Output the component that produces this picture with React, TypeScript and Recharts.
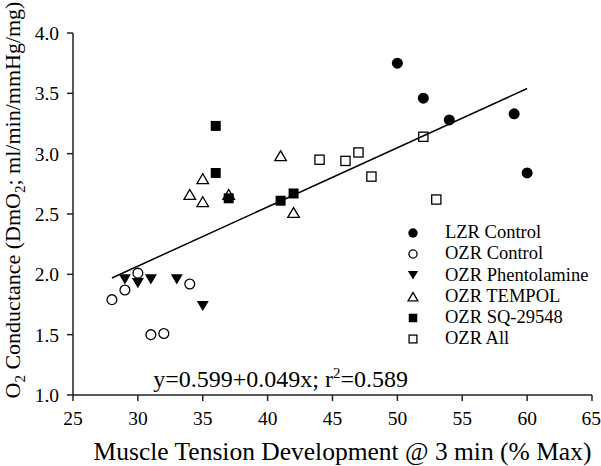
import React from "react";
import {
  ScatterChart,
  Scatter,
  XAxis,
  YAxis,
  ReferenceDot,
} from "recharts";

const lzrX = [50, 52, 54, 59, 60];
const lzrY = [3.75, 3.46, 3.28, 3.33, 2.84];

const ozrCtrlX = [28, 29, 30, 31, 32, 34];
const ozrCtrlY = [1.79, 1.87, 2.01, 1.5, 1.51, 1.92];

const phentX = [29, 30, 31, 33, 35];
const phentY = [1.96, 1.93, 1.96, 1.96, 1.74];

const tempolX = [34, 35, 35, 37, 41, 42];
const tempolY = [2.66, 2.79, 2.6, 2.66, 2.98, 2.51];

const sqX = [36, 36, 37, 41, 42];
const sqY = [3.23, 2.84, 2.63, 2.61, 2.67];

const allX = [44, 46, 47, 48, 52, 53];
const allY = [2.95, 2.94, 3.01, 2.81, 3.14, 2.62];

const fitX = [28, 60];
const fitY = [1.97, 3.54];

const xTicks = [25, 30, 35, 40, 45, 50, 55, 60, 65];
const yTicks = [1.0, 1.5, 2.0, 2.5, 3.0, 3.5, 4.0];

const toPts = (xs: number[], ys: number[]) => xs.map((x, i) => ({ x, y: ys[i] }));

const FONT = "'Liberation Serif', 'Times New Roman', serif";
const INK = "#000";

type Kind = "fillCircle" | "openCircle" | "fillTriDown" | "openTriUp" | "fillSquare" | "openSquare";

function Marker({ kind, cx, cy, s = 1 }: { kind: Kind; cx: number; cy: number; s?: number }) {
  const r = 5.5 * s;
  switch (kind) {
    case "fillCircle":
      return <circle cx={cx} cy={cy} r={r} fill={INK} />;
    case "openCircle":
      return <circle cx={cx} cy={cy} r={r - 0.6} fill="#fff" stroke={INK} strokeWidth={1.3} />;
    case "fillTriDown": {
      const h = 6 * s;
      return (
        <polygon
          points={`${cx - h},${cy - h * 0.8} ${cx + h},${cy - h * 0.8} ${cx},${cy + h * 0.9}`}
          fill={INK}
        />
      );
    }
    case "openTriUp": {
      const h = 5.8 * s;
      return (
        <polygon
          points={`${cx - h},${cy + h * 0.8} ${cx + h},${cy + h * 0.8} ${cx},${cy - h * 0.9}`}
          fill="#fff"
          stroke={INK}
          strokeWidth={1.3}
        />
      );
    }
    case "fillSquare": {
      const h = 5 * s;
      return <rect x={cx - h} y={cy - h} width={2 * h} height={2 * h} fill={INK} />;
    }
    case "openSquare": {
      const h = 4.6 * s;
      return <rect x={cx - h} y={cy - h} width={2 * h} height={2 * h} fill="#fff" stroke={INK} strokeWidth={1.3} />;
    }
  }
  return null;
}

const series: { name: string; kind: Kind; xs: number[]; ys: number[] }[] = [
  { name: "LZR Control", kind: "fillCircle", xs: lzrX, ys: lzrY },
  { name: "OZR Control", kind: "openCircle", xs: ozrCtrlX, ys: ozrCtrlY },
  { name: "OZR Phentolamine", kind: "fillTriDown", xs: phentX, ys: phentY },
  { name: "OZR TEMPOL", kind: "openTriUp", xs: tempolX, ys: tempolY },
  { name: "OZR SQ-29548", kind: "fillSquare", xs: sqX, ys: sqY },
  { name: "OZR All", kind: "openSquare", xs: allX, ys: allY },
];

function LegendBox() {
  return (
    <div
      style={{
        position: "absolute",
        left: 403,
        top: 222,
        fontFamily: FONT,
        fontSize: 18.5,
        color: INK,
        lineHeight: "21.3px",
        whiteSpace: "nowrap",
      }}
    >
      {series.map((s) => (
        <div key={s.name} style={{ display: "flex", alignItems: "center", height: 21.3 }}>
          <svg width={20} height={20} style={{ marginRight: 22 }}>
            <Marker kind={s.kind} cx={10} cy={10} s={0.85} />
          </svg>
          <span>{s.name}</span>
        </div>
      ))}
    </div>
  );
}

function YLabel() {
  return (
    <text
      transform="translate(20, 200) rotate(-90)"
      textAnchor="middle"
      fontFamily={FONT}
      fontSize={22}
      fill={INK}
    >
      O<tspan fontSize={15} dy={5}>2</tspan>
      <tspan dy={-5}> Conductance (DmO</tspan>
      <tspan fontSize={15} dy={5}>2</tspan>
      <tspan dy={-5}>; ml/min/mmHg/mg)</tspan>
    </text>
  );
}

function XLabel(props: any) {
  const { viewBox } = props;
  return (
    <text
      x={viewBox.x + viewBox.width / 2 + 10}
      y={viewBox.y + 65}
      textAnchor="middle"
      fontFamily={FONT}
      fontSize={25.5}
      fill={INK}
    >
      Muscle Tension Development @ 3 min (% Max)
    </text>
  );
}

function FitLabel(props: any) {
  const { viewBox } = props;
  return (
    <text x={viewBox.x} y={viewBox.y + 8} textAnchor="middle" fontFamily={FONT} fontSize={24} fill={INK}>
      y=0.599+0.049x; r<tspan fontSize={15} dy={-9}>2</tspan>
      <tspan dy={9}>=0.589</tspan>
    </text>
  );
}

export default function App() {
  return (
    <div style={{ position: "absolute", left: 0, top: 0, width: 601, height: 466, background: "#fff" }}>
      <ScatterChart width={601} height={466} margin={{ top: 33, right: 9, bottom: 11, left: 0 }}>
        <XAxis
          type="number"
          dataKey="x"
          domain={[25, 65]}
          ticks={xTicks}
          tickSize={6}
          tickMargin={10}
          stroke="#222"
          strokeWidth={1.5}
          height={60}
          tick={{ fontFamily: FONT, fontSize: 19.5, fill: INK }}
          label={<XLabel />}
        />
        <YAxis
          type="number"
          dataKey="y"
          domain={[1, 4]}
          ticks={yTicks}
          tickFormatter={(v: number) => v.toFixed(1)}
          tickSize={6}
          tickMargin={8}
          stroke="#222"
          strokeWidth={1.5}
          width={73}
          tick={{ fontFamily: FONT, fontSize: 19.5, fill: INK }}
          label={<YLabel />}
        />
        {series.map((s) => (
          <Scatter
            key={s.name}
            name={s.name}
            data={toPts(s.xs, s.ys)}
            isAnimationActive={false}
            shape={(p: any) => <Marker kind={s.kind} cx={p.cx} cy={p.cy} />}
          />
        ))}
        <Scatter
          data={toPts(fitX, fitY)}
          isAnimationActive={false}
          line={{ stroke: INK, strokeWidth: 1.5 }}
          shape={() => <g />}
          legendType="none"
        />
        <ReferenceDot x={41} y={1.13} r={0} stroke="none" fill="none" label={<FitLabel />} />
      </ScatterChart>
      <LegendBox />
    </div>
  );
}
